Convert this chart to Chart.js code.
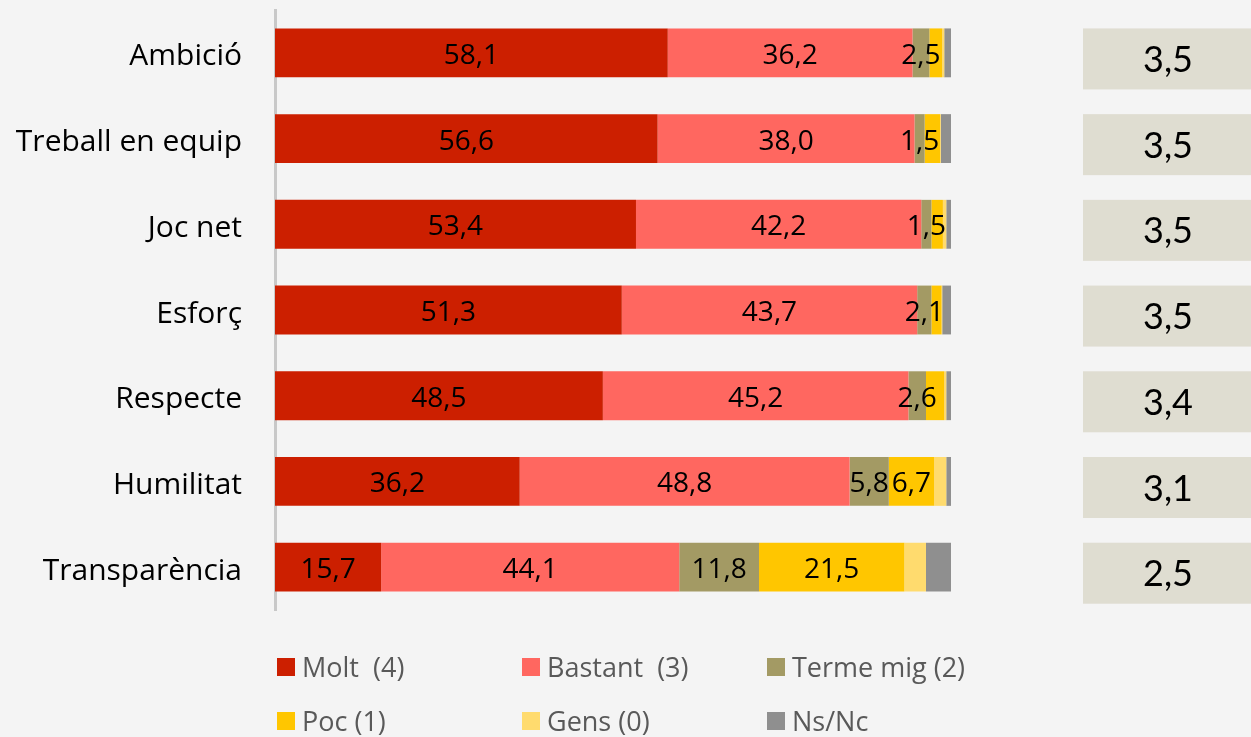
<!DOCTYPE html>
<html>
<head>
<meta charset="utf-8">
<script src="https://cdn.jsdelivr.net/npm/chart.js@4/dist/chart.umd.min.js"></script>
<style>
  html, body { margin: 0; padding: 0; background: #f4f4f4; }
  #wrap { position: relative; width: 1251px; height: 737px; overflow: hidden; }
  canvas { position: absolute; left: 0; top: 0; }
  .leg { position: absolute; font-family: "Open Sans", sans-serif; font-size: 27px; color: #595959; white-space: pre; line-height: 30px; }
  .leg span { position: absolute; left: -25px; top: 6px; width: 18px; height: 18px; }
</style>
</head>
<body>
<div id="wrap">
  <canvas id="chart" width="1251" height="737"></canvas>
</div>
<script>
const categories = ['Ambició', 'Treball en equip', 'Joc net', 'Esforç', 'Respecte', 'Humilitat', 'Transparència'];
const molt     = [58.1, 56.6, 53.4, 51.3, 48.5, 36.2, 15.7];
const bastant  = [36.2, 38.0, 42.2, 43.7, 45.2, 48.8, 44.1];
const termeMig = [2.5, 1.5, 1.5, 2.1, 2.6, 5.8, 11.8];
const poc      = [1.9, 2.3, 1.7, 1.5, 2.7, 6.7, 21.5];
const gens     = [0.3, 0.1, 0.5, 0.1, 0.3, 1.8, 3.2];
const nsnc     = [1.0, 1.5, 0.7, 1.3, 0.7, 0.7, 3.7];
const means    = [3.5, 3.5, 3.5, 3.5, 3.4, 3.1, 2.5];

const seriesNames = ['Molt  (4)', 'Bastant  (3)', 'Terme mig (2)', 'Poc (1)', 'Gens (0)', 'Ns/Nc'];
const seriesColors = ['#cc1f00', '#ff6760', '#a39a64', '#ffc600', '#ffdb6e', '#8f8f8f'];
// minimum value for a label to be shown (null = never)
const labelMin = [0, 0, 0, 5, null, null];

const fmt = v => v.toFixed(1).replace('.', ',');

// value labels inside the segments
const segmentLabels = {
  id: 'segmentLabels',
  afterDatasetsDraw(chart) {
    const ctx = chart.ctx;
    ctx.save();
    ctx.font = '28px "Open Sans"';
    ctx.fillStyle = '#000';
    ctx.textAlign = 'center';
    ctx.textBaseline = 'middle';
    chart.data.datasets.forEach((ds, di) => {
      if (labelMin[di] === null) return;
      chart.getDatasetMeta(di).data.forEach((bar, i) => {
        const v = ds.data[i];
        if (v < labelMin[di]) return;
        ctx.fillText(fmt(v), (bar.x + bar.base) / 2, bar.y + 3);
      });
    });
    ctx.restore();
  }
};

// grey boxes with the mean on the right
const meanBoxes = {
  id: 'meanBoxes',
  afterDraw(chart) {
    const ctx = chart.ctx;
    const meta = chart.getDatasetMeta(0);
    ctx.save();
    meta.data.forEach((bar, i) => {
      const top = bar.y - bar.height / 2;
      ctx.fillStyle = '#dfddd1';
      ctx.fillRect(1083, top, 180, 61);
      ctx.fillStyle = '#000';
      ctx.font = '36px Lato';
      ctx.textAlign = 'center';
      ctx.textBaseline = 'middle';
      ctx.fillText(fmt(means[i]), 1168, top + 32);
    });
    ctx.restore();
  }
};

const allSeries = [molt, bastant, termeMig, poc, gens, nsnc];

function draw() {
  new Chart(document.getElementById('chart'), {
    type: 'bar',
    data: {
      labels: categories,
      datasets: allSeries.map((d, i) => ({
        label: seriesNames[i],
        data: d,
        backgroundColor: seriesColors[i],
        borderWidth: 0,
        categoryPercentage: 1,
        barPercentage: 0.57
      }))
    },
    options: {
      indexAxis: 'y',
      responsive: false,
      animation: false,
      devicePixelRatio: 1,
      layout: { padding: { top: 10, bottom: 127, right: 300, left: 0 } },
      plugins: { legend: { display: false }, tooltip: { enabled: false } },
      scales: {
        x: { stacked: true, min: 0, max: 100, display: false },
        y: {
          stacked: true,
          grid: { display: false, drawTicks: false },
          border: { display: true, color: '#c8c8c8', width: 3 },
          ticks: { color: '#000', font: { family: 'Open Sans', size: 30 }, padding: 33, labelOffset: 4 },
          afterFit(scale) {
            scale.width = 275;
            scale.paddingTop = 0;
            scale.paddingBottom = 0;
          }
        }
      }
    },
    plugins: [segmentLabels, meanBoxes]
  });
}

// legend in two rows of three
const wrap = document.getElementById('wrap');
const legX = [302, 547, 792];
const legY = [652, 706];
seriesNames.forEach((name, i) => {
  const el = document.createElement('div');
  el.className = 'leg';
  el.style.left = legX[i % 3] + 'px';
  el.style.top = legY[Math.floor(i / 3)] + 'px';
  el.textContent = name;
  const sw = document.createElement('span');
  sw.style.background = seriesColors[i];
  el.appendChild(sw);
  wrap.appendChild(el);
});

Promise.all([
  document.fonts.load('36px Lato'),
  document.fonts.load('28px "Open Sans"')
]).then(draw, draw);
</script>
</body>
</html>
